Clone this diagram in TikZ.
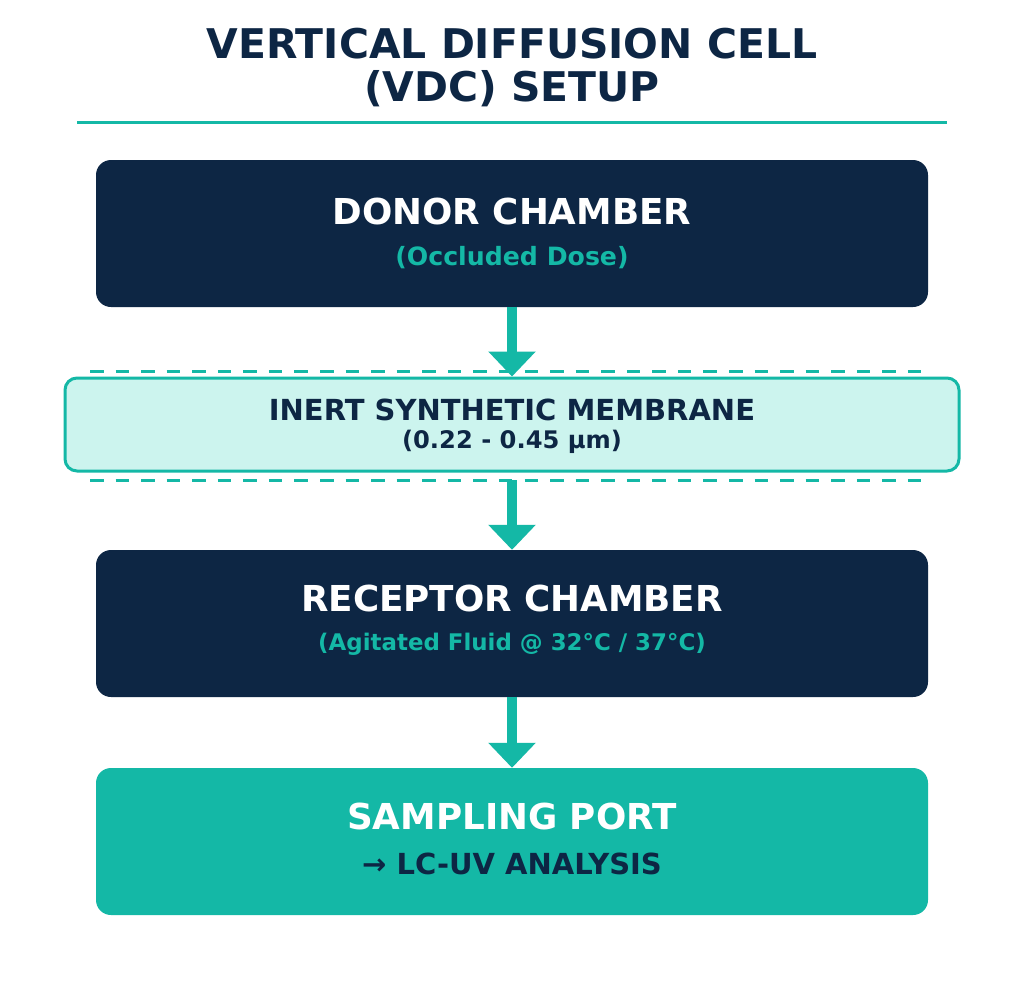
\documentclass[tikz,border=0pt]{standalone}
\usepackage{fontspec}
\setmainfont{DejaVu Sans}
\usetikzlibrary{arrows.meta}
\definecolor{navy}{HTML}{0D2644}
\definecolor{teal}{HTML}{14B8A6}
\definecolor{mint}{HTML}{CCF4EE}
\tikzset{
  chamber/.style={rounded corners=15pt, minimum width=832pt, minimum height=147pt, inner sep=0pt},
  flowarrow/.style={draw=teal, line width=10pt, -{Triangle[width=46pt,length=25pt]}},
  sep/.style={draw=teal, line width=3pt, dash pattern=on 13.5pt off 12.06pt},
  headtxt/.style={font=\bfseries\fontsize{35.7}{42}\selectfont}
}
\begin{document}
\begin{tikzpicture}[x=1pt,y=-1pt]
\useasboundingbox[fill=white] (0,0) rectangle (1024,998);
% title
\node[font=\bfseries\fontsize{40.9}{43.5}\selectfont, text=navy, align=center] (title) at (512,67.5) {VERTICAL DIFFUSION CELL\\(VDC) SETUP};
\coordinate (rl) at (77,122);
\coordinate (rr) at (947,122);
\draw[teal, line width=3pt] (rl) -- (rr);
% donor
\node[chamber, fill=navy] (donor) at (512,233.5) {};
\node[headtxt, text=white] (donorT) at (512,212) {DONOR CHAMBER};
\node[font=\bfseries\fontsize{25.2}{30}\selectfont, text=teal] (donorS) at (512,258) {(Occluded Dose)};
% membrane
\coordinate (d1l) at (90,371); \coordinate (d1r) at (922,371);
\coordinate (d2l) at (90,480); \coordinate (d2r) at (922,480);
\draw[sep] (d1l) -- (d1r);
\draw[sep] (d2l) -- (d2r);
\node[rounded corners=12pt, minimum width=894pt, minimum height=93pt, fill=mint, draw=teal, line width=3pt, inner sep=0pt] (memb) at (512,424.5) {};
\node[font=\bfseries\fontsize{29}{33}\selectfont, text=navy] (membT) at (512,410) {INERT SYNTHETIC MEMBRANE};
\node[font=\bfseries\fontsize{24.2}{28}\selectfont, text=navy] (membS) at (512,442) {(0.22 - 0.45 µm)};
\coordinate (mbot) at (512,480);
% receptor
\node[chamber, fill=navy] (recep) at (512,623.5) {};
\node[headtxt, text=white] (recepT) at (512,598) {RECEPTOR CHAMBER};
\node[font=\bfseries\fontsize{22.9}{27}\selectfont, text=teal] (recepS) at (512,644) {(Agitated Fluid @ 32°C / 37°C)};
% sampling
\node[chamber, fill=teal] (samp) at (512,841.5) {};
\node[headtxt, text=white] (sampT) at (512,816) {SAMPLING PORT};
\node[font=\bfseries\fontsize{29}{33}\selectfont, text=navy] (sampS) at (512,864) {→ LC-UV ANALYSIS};
% arrows
\draw[flowarrow] (donor.south) -- (memb.north);
\draw[flowarrow] (mbot) -- (recep.north);
\draw[flowarrow] (recep.south) -- (samp.north);
\end{tikzpicture}
\end{document}
